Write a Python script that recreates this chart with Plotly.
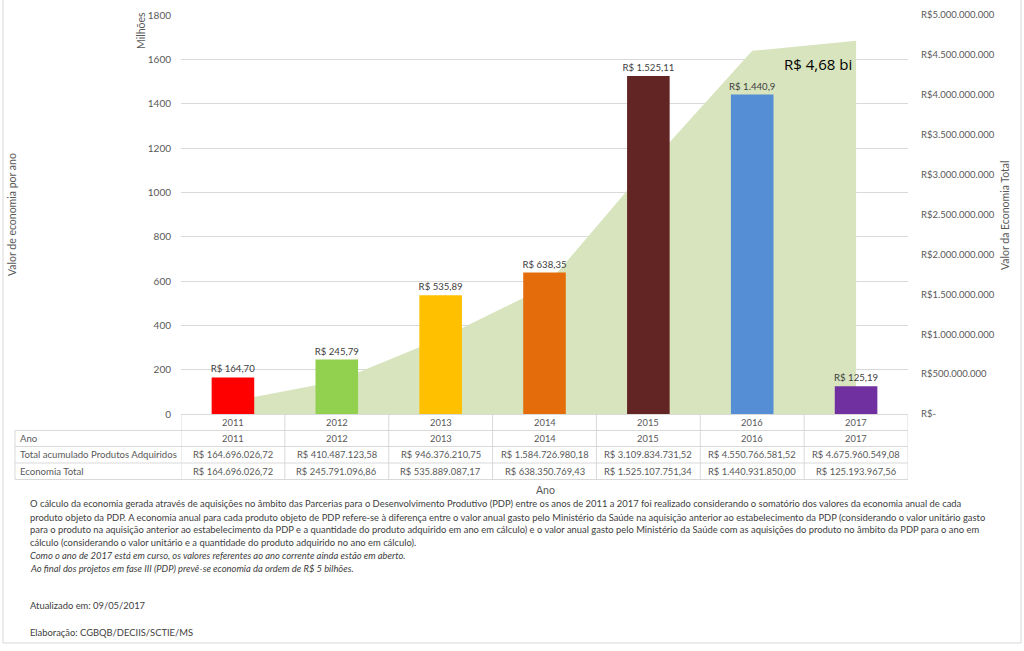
import plotly.graph_objects as go

years = ["2011", "2012", "2013", "2014", "2015", "2016", "2017"]
economia_milhoes = [164.70, 245.79, 535.89, 638.35, 1525.11, 1440.93, 125.19]
bar_labels = ["R$ 164,70", "R$ 245,79", "R$ 535,89", "R$ 638,35", "R$ 1.525,11", "R$ 1.440,9", "R$ 125,19"]
bar_colors = ["#FF0000", "#92D050", "#FFC000", "#E46C0A", "#632523", "#558ED5", "#7030A0"]
acumulado = [164696026.72, 410487123.58, 946376210.75, 1584726980.18, 3109834731.52, 4550766581.52, 4675960549.08]
acumulado_txt = ["R$ 164.696.026,72", "R$ 410.487.123,58", "R$ 946.376.210,75", "R$ 1.584.726.980,18",
                 "R$ 3.109.834.731,52", "R$ 4.550.766.581,52", "R$ 4.675.960.549,08"]
economia_txt = ["R$ 164.696.026,72", "R$ 245.791.096,86", "R$ 535.889.087,17", "R$ 638.350.769,43",
                "R$ 1.525.107.751,34", "R$ 1.440.931.850,00", "R$ 125.193.967,56"]
left_ticks = [0, 200, 400, 600, 800, 1000, 1200, 1400, 1600, 1800]
right_tickvals = [0, 5e8, 1e9, 1.5e9, 2e9, 2.5e9, 3e9, 3.5e9, 4e9, 4.5e9, 5e9]
right_ticktext = ["R$-", "R$500.000.000", "R$1.000.000.000", "R$1.500.000.000", "R$2.000.000.000",
                  "R$2.500.000.000", "R$3.000.000.000", "R$3.500.000.000", "R$4.000.000.000",
                  "R$4.500.000.000", "R$5.000.000.000"]
notes = [
    "O cálculo da economia gerada através de aquisições no âmbito das Parcerias para o Desenvolvimento Produtivo (PDP) entre os anos de 2011 a 2017 foi realizado considerando o somatório dos valores da economia anual de cada",
    "produto objeto da PDP. A economia anual para cada produto objeto de PDP refere-se à diferença entre o valor anual gasto pelo Ministério da Saúde na aquisição anterior ao estabelecimento da PDP (considerando o valor unitário gasto",
    "para o produto na aquisição anterior ao estabelecimento da PDP e a quantidade do produto adquirido em ano em cálculo) e o valor anual gasto pelo Ministério da Saúde com as aquisições do produto no âmbito da PDP para o ano em",
    "cálculo (considerando o valor unitário e a quantidade do produto adquirido no ano em cálculo).",
    "<i>Como o ano de 2017 está em curso, os valores referentes ao ano corrente ainda estão em aberto.</i>",
    "<i>Ao final dos projetos em fase III (PDP) prevê-se economia da ordem de R$ 5 bilhões.</i>",
]

FONT = "Lato"
GRAY = "#595959"
W, H = 1024, 651
L, R, T, B = 181, 908, 15, 414


def px(x):
    return (x - L) / (R - L)


def py(y):
    return (B - y) / (B - T)


fig = go.Figure()
fig.add_trace(go.Scatter(x=years, y=acumulado, yaxis="y", mode="lines", fill="tozeroy",
                         line=dict(width=0, color="#D7E4BD"), fillcolor="#D7E4BD",
                         showlegend=False, hoverinfo="skip"))
fig.add_trace(go.Bar(x=years, y=economia_milhoes, yaxis="y2", marker=dict(color=bar_colors, line=dict(width=0)),
                     text=bar_labels, textposition="outside", cliponaxis=False, constraintext="none",
                     textfont=dict(family=FONT, size=9.6, color="#404040"), showlegend=False))

shapes = []
ann = []
line_c = "#D9D9D9"
row_y = [414.5, 430.5, 446.5, 463, 479.5]
for i, yy in enumerate(row_y):
    x0 = px(181) if i == 0 else px(15)
    shapes.append(dict(type="line", xref="paper", yref="paper", x0=x0, x1=1, y0=py(yy), y1=py(yy),
                       line=dict(color=line_c, width=1)))
for k in range(len(years) + 1):
    shapes.append(dict(type="line", xref="x", yref="paper", x0=k - 0.5, x1=k - 0.5,
                       y0=py(row_y[0]), y1=py(row_y[-1]), line=dict(color=line_c, width=1)))
shapes.append(dict(type="line", xref="paper", yref="paper", x0=px(15), x1=px(15),
                   y0=py(row_y[1]), y1=py(row_y[-1]), line=dict(color=line_c, width=1)))
shapes.append(dict(type="rect", xref="paper", yref="paper", x0=px(3), x1=px(1021), y0=py(643), y1=py(-2),
                   line=dict(color="#D9D9D9", width=1), layer="below"))

row_labels = ["", "Ano", "Total acumulado Produtos Adquiridos", "Economia Total"]
row_vals = [years, years, acumulado_txt, economia_txt]
for r in range(4):
    yc = py((row_y[r] + row_y[r + 1]) / 2)
    if row_labels[r]:
        ann.append(dict(text=row_labels[r], xref="paper", yref="paper", x=px(18), y=yc, xanchor="left",
                        yanchor="middle", showarrow=False, font=dict(family=FONT, size=9.6, color=GRAY)))
    for j, v in enumerate(row_vals[r]):
        ann.append(dict(text=v, xref="x", yref="paper", x=j, y=yc, xanchor="center", yanchor="middle",
                        showarrow=False, font=dict(family=FONT, size=9.4, color=GRAY)))

ann.append(dict(text="Ano", xref="paper", yref="paper", x=px(545), y=py(490), showarrow=False,
                xanchor="center", yanchor="middle", font=dict(family=FONT, size=10.5, color=GRAY)))
ann.append(dict(text="Milhões", xref="paper", yref="paper", x=px(141), y=py(31), showarrow=False, textangle=-90,
                xanchor="center", yanchor="middle", font=dict(family=FONT, size=10.5, color=GRAY)))
ann.append(dict(text="Valor de economia por ano", xref="paper", yref="paper", x=px(12), y=py(215), showarrow=False,
                textangle=-90, xanchor="center", yanchor="middle", font=dict(family=FONT, size=10.5, color=GRAY)))
ann.append(dict(text="Valor da Economia Total", xref="paper", yref="paper", x=px(1005), y=py(215), showarrow=False,
                textangle=-90, xanchor="center", yanchor="middle", font=dict(family=FONT, size=10.5, color=GRAY)))
ann.append(dict(text="R$ 4,68 bi", xref="paper", yref="paper", x=px(818), y=py(64), showarrow=False,
                xanchor="center", yanchor="middle", font=dict(family="Open Sans", size=15, color="#000000")))
note_y = [504, 517, 529.5, 542, 555, 568]
for t, yy in zip(notes, note_y):
    ann.append(dict(text=t, xref="paper", yref="paper", x=px(28), y=py(yy), showarrow=False,
                    xanchor="left", yanchor="middle", font=dict(family=FONT, size=9.4, color="#404040")))
ann.append(dict(text="Atualizado em: 09/05/2017", xref="paper", yref="paper", x=px(28), y=py(605), showarrow=False,
                xanchor="left", yanchor="middle", font=dict(family=FONT, size=9.4, color="#404040")))
ann.append(dict(text="Elaboração: CGBQB/DECIIS/SCTIE/MS", xref="paper", yref="paper", x=px(28), y=py(632),
                showarrow=False, xanchor="left", yanchor="middle", font=dict(family=FONT, size=9.4, color="#404040")))

fig.update_layout(
    width=W, height=H,
    margin=dict(l=L, r=W - R, t=T, b=H - B, autoexpand=False),
    paper_bgcolor="white", plot_bgcolor="white",
    bargap=0.59,
    xaxis=dict(type="category", range=[-0.5, 6.5], showticklabels=False, showgrid=False, zeroline=False,
               ticks="", showline=False),
    yaxis=dict(range=[0, 5e9], side="right", tickvals=right_tickvals, ticktext=right_ticktext,
               showgrid=False, zeroline=False, ticks="", ticklabelstandoff=12,
               tickfont=dict(family=FONT, size=9.5, color=GRAY)),
    yaxis2=dict(range=[0, 1800], overlaying="y", side="left", tickvals=left_ticks,
                showgrid=True, gridcolor="#D9D9D9", gridwidth=1, zeroline=False, ticks="",
                ticklabelstandoff=9, tickfont=dict(family=FONT, size=10, color=GRAY)),
    shapes=shapes, annotations=ann,
)

fig.write_html("out.html", config={"displayModeBar": False},
               post_script="document.body.style.margin='0px';document.body.style.overflow='hidden';")
